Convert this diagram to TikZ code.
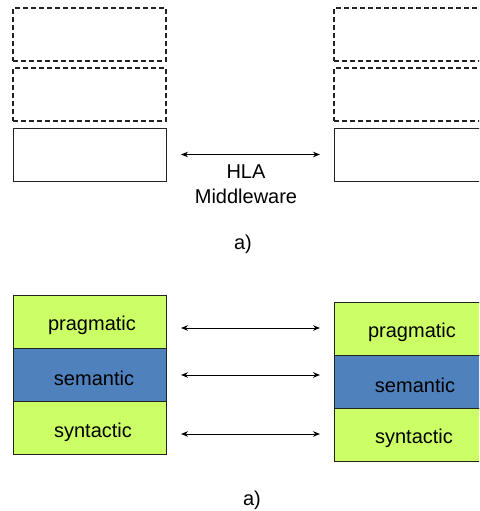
\documentclass[tikz,border=0pt]{standalone}
\usepackage{fontspec}
\setmainfont{Liberation Sans}
\usetikzlibrary{arrows.meta}
\definecolor{layergreen}{HTML}{CCFF66}
\definecolor{layerblue}{HTML}{4F81BD}
\definecolor{edge}{HTML}{222222}
\begin{document}
\begin{tikzpicture}[x=1pt,y=-1pt,
  box/.style={draw=edge,line width=1pt,minimum width=153pt,minimum height=53pt,inner sep=0pt,outer sep=0pt},
  dbox/.style={box,line width=1.2pt,dash pattern=on 5pt off 3pt},
  lbl/.style={font=\fontsize{20}{24}\selectfont,inner sep=0pt},
  link/.style={line width=1pt,{Stealth[length=7pt,width=5.5pt]}-{Stealth[length=7pt,width=5.5pt]}}]
\useasboundingbox (0,0) rectangle (479,511);
\clip (0,0) rectangle (479,511);

% upper stack: two dashed layers above the solid one
\node[dbox] (L1) at (89.5,34.5) {};
\node[dbox] (L2) at (89.5,94.5) {};
\node[box]  (L3) at (89.5,154.5) {};
\node[dbox] (R1) at (410.5,34.5) {};
\node[dbox] (R2) at (410.5,94.5) {};
\node[box]  (R3) at (410.5,154.5) {};
\draw[link] ([xshift=15pt]L3.east) -- ([xshift=-14pt]R3.west);
\node[lbl] (hla) at (246,172) {HLA};
\node[lbl] (mw) at (246,196) {Middleware};
\node[lbl] (capa) at (243,244) {a)};

% lower stack: interoperability layers
\node[box,fill=layergreen] (P1) at (89.5,321.5) {};
\node[box,fill=layerblue]  (S1) at (89.5,374.5) {};
\node[box,fill=layergreen] (Y1) at (89.5,428) {};
\node[box,fill=layergreen] (P2) at (410.5,328.5) {};
\node[box,fill=layerblue]  (S2) at (410.5,381.5) {};
\node[box,fill=layergreen] (Y2) at (410.5,434.5) {};

\node[lbl] (tp1) at (92,325) {pragmatic};
\node[lbl] (ts1) at (94,378) {semantic};
\node[lbl] (ty1) at (93,432) {syntactic};
\node[lbl] (tp2) at (412,332) {pragmatic};
\node[lbl] (ts2) at (415,385) {semantic};
\node[lbl] (ty2) at (414,438) {syntactic};

\coordinate (a1) at (181,328);
\coordinate (b1) at (320,328);
\coordinate (a2) at (181,375);
\coordinate (b2) at (320,375);
\coordinate (a3) at (181,434);
\coordinate (b3) at (320,434);
\draw[link] (a1) -- (b1);
\draw[link] (a2) -- (b2);
\draw[link] (a3) -- (b3);

\node[lbl] (capb) at (252,500) {a)};
\end{tikzpicture}
\end{document}
